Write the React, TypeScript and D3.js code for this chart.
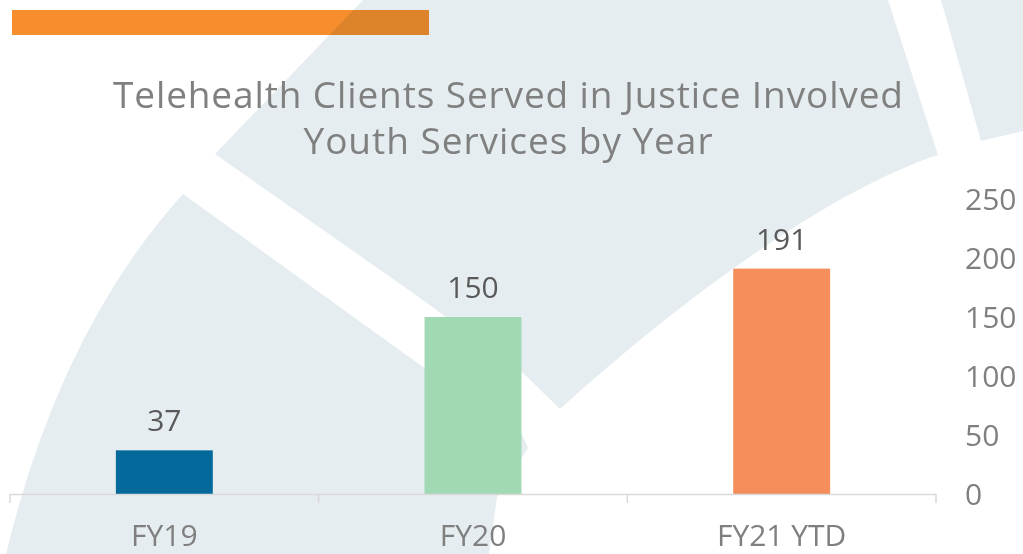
import React from "react";
import * as d3 from "d3";

// chart data
const categories = ["FY19", "FY20", "FY21 YTD"];
const clients = [37, 150, 191];
const barColors = ["#02699A", "#A0D9B4", "#F58E5A"];
const yTicks = [0, 50, 100, 150, 200, 250];
const titleLines = ["Telehealth Clients Served in Justice Involved", "Youth Services by Year"];

// watermark shapes behind the chart (decoration only)
const watermark = [
  "M363,0 L888,0 L938,155 C830,190 680,300 560,409 L523,373 L413,293 L215,154 Z",
  "M183,194 L423,367 L521,432 L528,448 L497,497 L489,554 L6,554 Q60,330 183,194 Z",
  "M941,0 L1023,0 L1023,131 L981,141 Z",
];

const W = 1023;
const H = 554;
const FONT = "'Open Sans', Lato, sans-serif";

export default function App() {
  const x = d3
    .scaleBand<string>()
    .domain(categories)
    .range([10, 936])
    .paddingInner(0.686)
    .paddingOuter(0.343);

  const y = d3.scaleLinear().domain([0, 250]).range([494, 199]);

  const step = x.step();
  const edges = d3.range(categories.length + 1).map((i) => 10 + i * step);

  return (
    <svg
      width={W}
      height={H}
      style={{ position: "absolute", left: 0, top: 0, fontFamily: FONT }}
    >
      <rect width={W} height={H} fill="#fff" />
      <rect x={12} y={10} width={417} height={25} fill="#F78E2D" />
      <g style={{ mixBlendMode: "multiply" }}>
        {watermark.map((d, i) => (
          <path key={i} d={d} fill="#E5EDF1" />
        ))}
      </g>

      {titleLines.map((t, i) => (
        <text
          key={t}
          x={508}
          y={108 + i * 46}
          textAnchor="middle"
          fontSize={37}
          fill="#808080"
          textLength={i === 0 ? 790 : 409}
          lengthAdjust="spacing"
        >
          {t}
        </text>
      ))}

      {categories.map((c, i) => (
        <g key={c}>
          <rect
            x={x(c)}
            y={y(clients[i])}
            width={x.bandwidth()}
            height={y(0) - y(clients[i])}
            fill={barColors[i]}
          />
          <text
            x={x(c)! + x.bandwidth() / 2}
            y={y(clients[i]) - 19}
            textAnchor="middle"
            fontSize={30}
            fill="#595959"
          >
            {clients[i]}
          </text>
          <text
            x={x(c)! + x.bandwidth() / 2}
            y={546}
            textAnchor="middle"
            fontSize={30}
            fill="#7F7F7F"
          >
            {c}
          </text>
        </g>
      ))}

      <line x1={10} x2={936} y1={494.5} y2={494.5} stroke="#D9D9D9" strokeWidth={1.5} />
      {edges.map((e, i) => (
        <line key={i} x1={e} x2={e} y1={494} y2={503} stroke="#D9D9D9" strokeWidth={1.5} />
      ))}

      {yTicks.map((t) => (
        <text key={t} x={965} y={y(t)} dy="0.36em" fontSize={30} fill="#7F7F7F">
          {t}
        </text>
      ))}
    </svg>
  );
}
